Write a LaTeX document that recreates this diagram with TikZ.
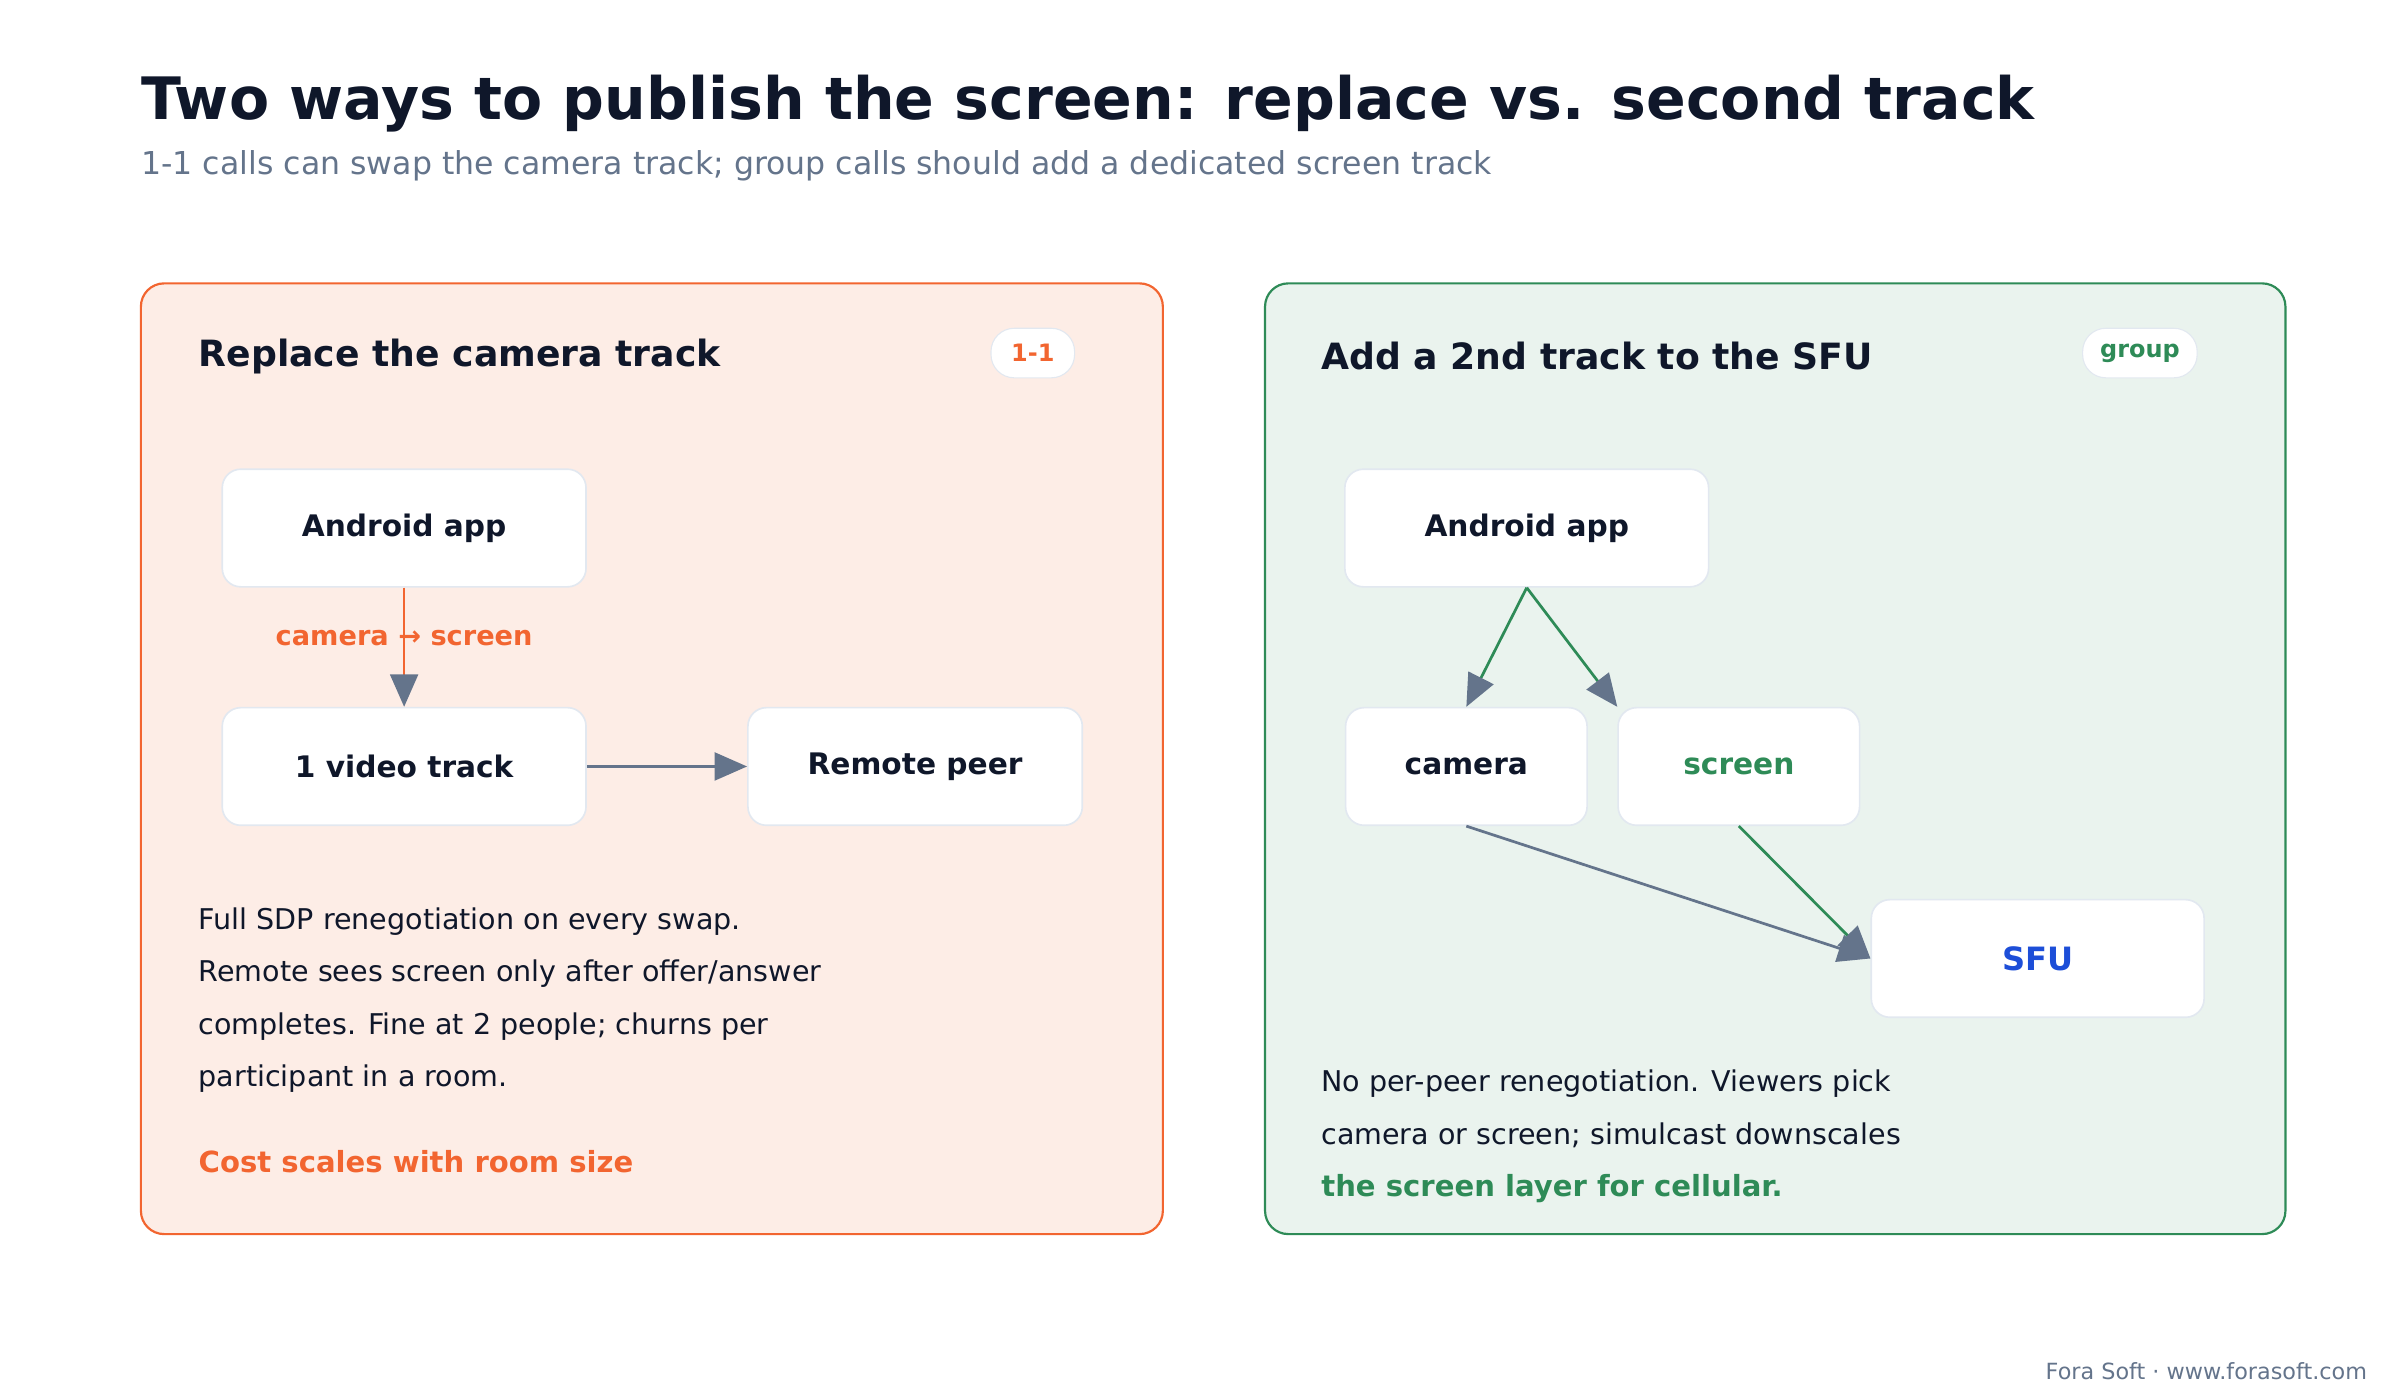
\documentclass[tikz,border=0pt]{standalone}
\usepackage{fontspec}
\setmainfont{DejaVu Sans}
\usetikzlibrary{arrows.meta,positioning}
\definecolor{ink}{HTML}{0F172A}
\definecolor{slate}{HTML}{64748B}
\definecolor{orng}{HTML}{F26530}
\definecolor{grn}{HTML}{2E8B57}
\definecolor{sfublue}{HTML}{1D4ED8}
\definecolor{rim}{HTML}{E2E8F0}
\tikzset{tip/.style={-{Triangle[length=0.42cm,width=0.36cm,color=slate]}}}

\begin{document}
\begin{tikzpicture}[
        x=0.02cm,y=-0.02cm,
        box/.style={draw=rim,fill=white,rounded corners=0.24cm,line width=0.6pt,
            minimum height=1.52cm,font=\fontsize{10.9}{12}\selectfont\bfseries,text=ink},
        badge/.style={draw=rim,fill=white,rounded corners=0.3cm,minimum height=0.64cm,
            font=\fontsize{8.8}{10}\selectfont\bfseries},
        panel/.style={rounded corners=0.3cm,line width=0.8pt},
        head/.style={anchor=west,inner sep=0pt,font=\fontsize{13.3}{15}\selectfont\bfseries,text=ink},
        body/.style={anchor=base west,inner sep=0pt,font=\fontsize{10.5}{12}\selectfont,text=ink}
    ]
    \useasboundingbox (0,0) rectangle (1550,904);
    \node [anchor=base west,inner sep=0pt,font=\fontsize{21.5}{24}\selectfont\bfseries,text=ink] (title) at (91,77)
        {Two ways to publish the screen: replace vs. second track};
    \node [anchor=base west,inner sep=0pt,font=\fontsize{11.6}{13}\selectfont,text=slate] (sub) at (91,113)
        {1-1 calls can swap the camera track; group calls should add a dedicated screen track};
    % left panel
    \draw [panel,draw=orng,fill=orng!12] (91,183) rectangle (751,797);
    \node [head] (ltitle) at (128,230) {Replace the camera track};
    \node [badge,minimum width=1.08cm,text=orng] (lbadge) at (667,228) {1-1};
    \node [box,minimum width=4.7cm] (app) at (261,341) {Android app};
    \node [box,minimum width=4.7cm] (track) at (261,495) {1 video track};
    \node [box,minimum width=4.32cm] (peer) at (591,495) {Remote peer};
    \draw [tip,orng,line width=1pt] (app) -- (track);
    \node [font=\fontsize{10}{11}\selectfont\bfseries,text=orng] (swap) at (261,412) {camera → screen};
    \draw [tip,slate,line width=1pt] (track) -- (peer);
    \foreach \y/\t in {600/{Full SDP renegotiation on every swap.},
                       634/{Remote sees screen only after offer/answer},
                       668/{completes. Fine at 2 people; churns per},
                       702/{participant in a room.}} {
        \node [body] at (128,\y) {\t};
    }
    \node [body,font=\fontsize{10.7}{12}\selectfont\bfseries,text=orng] (cost) at (128,757) {Cost scales with room size};
    % right panel
    \draw [panel,draw=grn,fill=grn!10] (817,183) rectangle (1476,797);
    \node [head] (rtitle) at (853,230) {Add a 2nd track to the SFU};
    \node [badge,minimum width=1.48cm,text=grn] (rbadge) at (1382,228) {group};
    \node [box,minimum width=4.7cm] (app2) at (986,341) {Android app};
    \node [box,minimum width=3.12cm] (cam) at (947,495) {camera};
    \node [box,minimum width=3.12cm,text=grn] (scr) at (1123,495) {screen};
    \node [box,minimum width=4.3cm,text=sfublue,font=\fontsize{11.8}{13}\selectfont\bfseries] (sfu) at (1316,619) {SFU};
    \draw [tip,grn,line width=1pt] (app2.south) -- (cam.north);
    \draw [tip,grn,line width=1pt] (app2.south) -- (scr.north west);
    \draw [tip,slate,line width=1pt] (cam.south) -- (sfu.west);
    \draw [tip,grn,line width=1pt] (scr.south) -- (sfu.west);
    \node [body] at (853,705) {No per-peer renegotiation. Viewers pick};
    \node [body] at (853,739) {camera or screen; simulcast downscales};
    \node [body,font=\fontsize{10.7}{12}\selectfont\bfseries,text=grn] (layer) at (853,773) {the screen layer for cellular.};
    \node [anchor=base east,inner sep=0pt,font=\fontsize{8.2}{9}\selectfont,text=slate] (foot) at (1529,891)
        {Fora Soft · www.forasoft.com};
\end{tikzpicture}
\end{document}
